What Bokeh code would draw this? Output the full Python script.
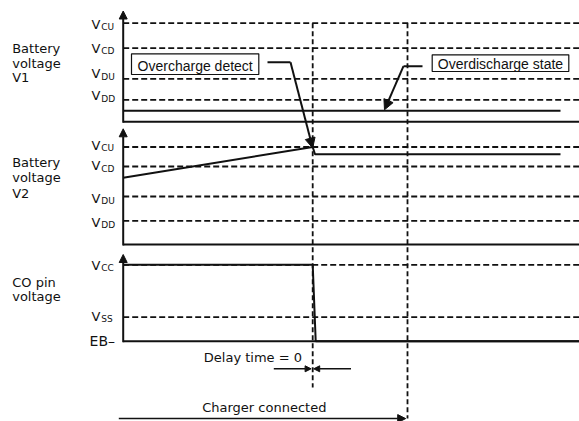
from bokeh.plotting import figure
from bokeh.models import Range1d, Arrow, NormalHead
from bokeh.core.properties import value
from bokeh.embed import file_html
from bokeh.resources import INLINE

# ---------------- data (time in arbitrary units, 0 = start of trace) ----------------
t_detect = 189.5        # overcharge detected, delay time = 0
t_charger_off = 284.3   # charger disconnected
t_trace_end = 437.3     # end of battery traces
t_axis_end = 460.0      # end of time axes

battery_level_subs = ["CU", "CD", "DU", "DD"]
v1_levels = [98.6, 73.6, 43.0, 22.0]      # V_CU, V_CD, V_DU, V_DD (panel 1)
v2_levels = [97.5, 78.0, 48.0, 23.7]      # V_CU, V_CD, V_DU, V_DD (panel 2)
co_level_subs = ["CC", "SS"]
co_levels = [76.4, 24.0]                  # V_CC, V_SS (panel 3), EB- = 0

v1_time = [0.0, t_trace_end]
v1_volt = [11.0, 11.0]
v2_time = [0.0, t_detect, t_detect + 2.3, t_trace_end]
v2_volt = [66.7, 97.5, 90.2, 90.2]
co_time = [0.0, t_detect, t_detect + 3.0, t_axis_end]
co_volt = [76.4, 76.4, 0.0, 0.0]

panel_titles = [["Battery", "voltage", "V1"], ["Battery", "voltage", "V2"], ["CO pin", "voltage"]]

# ---------------- layout ----------------
P1, P2, P3 = 299.7, 177.0, 80.3          # panel baselines
TOP1, TOP2, TOP3 = 110.8, 115.7, 86.7     # axis heights
# vertical nudges of the level labels relative to their lines (as drawn in the original)
lab_nudge1 = [-1.0, 0.0, 5.0, 4.0]
lab_nudge2 = [1.3, 0.7, -1.5, -1.5]
lab_nudge3 = [-0.4, 0.5]
title_rows = [[73.5, 58.3, 44.1], [82.0, 66.7, 51.2], [58.7, 44.4]]

p = figure(width=579, height=421, x_range=Range1d(-122.7, 456.3), y_range=Range1d(0, 421),
           output_backend="svg", toolbar_location=None, min_border=0)
p.axis.visible = False
p.grid.visible = False
p.outline_line_color = None

BLACK = "#111111"
LAB_FONT = value("DejaVu Sans")
BOX_FONT = value("Liberation Sans")

# dashed level lines
for base, levels in [(P1, v1_levels), (P2, v2_levels), (P3, co_levels)]:
    p.multi_line(xs=[[0, t_axis_end] for _ in levels], ys=[[base + l, base + l] for l in levels],
                 line_dash="6 3", line_width=1.8, line_color=BLACK)

# vertical dashed time markers
p.segment(x0=[t_detect, t_charger_off], y0=[P1 + v1_levels[0]] * 2,
          x1=[t_detect, t_charger_off], y1=[P3 - 46.3, 3.0],
          line_dash="5 3", line_width=1.8, line_color=BLACK)

# axes
for base, top in [(P1, TOP1), (P2, TOP2), (P3, TOP3)]:
    p.segment(x0=[0], y0=[base], x1=[t_axis_end], y1=[base], line_width=2, line_color=BLACK)
    p.add_layout(Arrow(end=NormalHead(size=8, fill_color=BLACK, line_color=BLACK, line_width=1),
                       x_start=0, y_start=base - 1, x_end=0, y_end=base + top,
                       line_width=2, line_color=BLACK))

# signal traces
p.line(v1_time, [P1 + v for v in v1_volt], line_width=2, line_color=BLACK)
p.line(v2_time, [P2 + v for v in v2_volt], line_width=2, line_color=BLACK)
p.line(co_time, [P3 + v for v in co_volt], line_width=2, line_color=BLACK)

# level labels (V + subscript)
vx, vy, sx, sy, st = [], [], [], [], []
for base, levels, subs, nud in [(P1, v1_levels, battery_level_subs, lab_nudge1),
                                (P2, v2_levels, battery_level_subs, lab_nudge2),
                                (P3, co_levels, co_level_subs, lab_nudge3)]:
    for l, s, n in zip(levels, subs, nud):
        vx.append(-22.8); vy.append(base + l + n)
        sx.append(-22.0); sy.append(base + l + n - 2.7); st.append(s)
p.text(x=vx, y=vy, text=["V"] * len(vx), text_align="right", text_baseline="middle",
       text_font=LAB_FONT, text_font_size=value("13px"), text_color=BLACK)
p.text(x=sx, y=sy, text=st, text_align="left", text_baseline="middle",
       text_font=LAB_FONT, text_font_size=value("9px"), text_color=BLACK)
p.text(x=[-8.2], y=[P3 + 0.7], text=["EB\u2013"], text_align="right", text_baseline="middle",
       text_font=LAB_FONT, text_font_size=value("14px"), text_color=BLACK)

# panel titles
tx, ty, tt = [], [], []
for lines, base, rows in zip(panel_titles, [P1, P2, P3], title_rows):
    for s, r in zip(lines, rows):
        tx.append(-111.0); ty.append(base + r); tt.append(s)
p.text(x=tx, y=ty, text=tt, text_align="left", text_baseline="middle",
       text_font=LAB_FONT, text_font_size=value("13px"), text_color=BLACK)

# callout boxes
box_left = [8.3, 309.0]
box_right = [135.6, 445.6]
box_bottom = [P1 + 47.3, P1 + 50.3]
box_top = [P1 + 68.0, P1 + 67.0]
box_text = ["Overcharge detect", "Overdischarge state"]
p.quad(left=box_left, right=box_right, bottom=box_bottom, top=box_top,
       fill_color="white", line_color=BLACK, line_width=1.2)
p.text(x=[(a + b) / 2 for a, b in zip(box_left, box_right)], y=[P1 + 56.2, P1 + 57.8], text=box_text,
       text_align="center", text_baseline="middle", text_font=BOX_FONT,
       text_font_size=value("14px"), text_color=BLACK)

# leader lines
head = dict(fill_color=BLACK, line_color=BLACK, line_width=1)
p.line([144.3, 167.3], [P1 + 59.6] * 2, line_width=2, line_color=BLACK)
p.add_layout(Arrow(end=NormalHead(size=10, **head), x_start=167.3, y_start=P1 + 59.6,
                   x_end=t_detect, y_end=P2 + v2_volt[1] - 1.0, line_width=2, line_color=BLACK))
p.line([299.3, 280.3], [P1 + 55.6] * 2, line_width=2, line_color=BLACK)
p.add_layout(Arrow(end=NormalHead(size=10, **head), x_start=280.3, y_start=P1 + 55.6,
                   x_end=261.3, y_end=P1 + v1_volt[0] + 1.0, line_width=2, line_color=BLACK))

# delay time arrows
p.add_layout(Arrow(end=NormalHead(size=6, **head), x_start=150.6, y_start=P3 - 27.6,
                   x_end=t_detect - 1.6, y_end=P3 - 27.6, line_width=1.5, line_color=BLACK))
p.add_layout(Arrow(end=NormalHead(size=6, **head), x_start=227.8, y_start=P3 - 27.6,
                   x_end=t_detect + 1.0, y_end=P3 - 27.6, line_width=1.5, line_color=BLACK))
p.text(x=[80.6], y=[P3 - 16.0], text=["Delay time = 0"], text_align="left", text_baseline="middle",
       text_font=LAB_FONT, text_font_size=value("13px"), text_color=BLACK)

# charger connected arrow
p.add_layout(Arrow(end=NormalHead(size=8, **head), x_start=-4.4, y_start=2.9,
                   x_end=t_charger_off - 1.8, y_end=2.9, line_width=1.5, line_color=BLACK))
p.text(x=[79.0], y=[14.3], text=["Charger connected"], text_align="left", text_baseline="middle",
       text_font=LAB_FONT, text_font_size=value("13px"), text_color=BLACK)

open("out.html", "w").write(file_html(p, INLINE))
